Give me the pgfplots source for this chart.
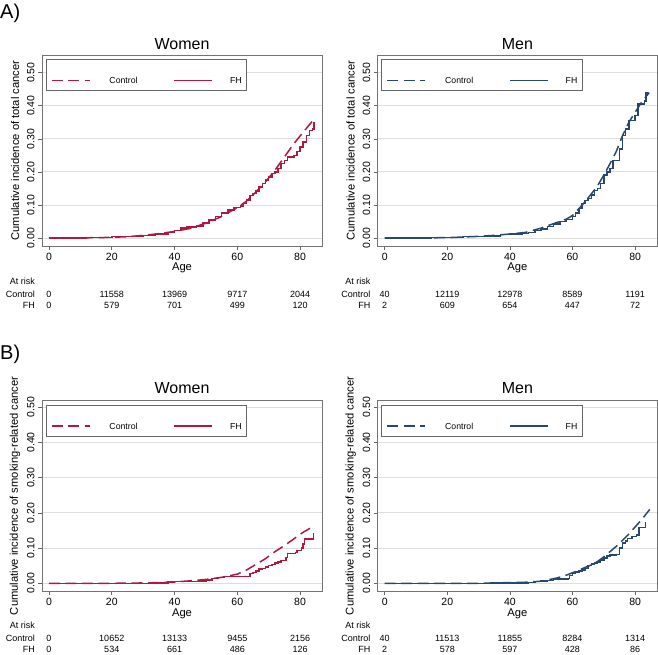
\documentclass[border=0pt]{standalone}
\usepackage{pgfplots}
\pgfplotsset{compat=1.18}
\usepackage{fontspec}
\setmainfont{Liberation Sans}
\definecolor{wcol}{RGB}{178,24,62}
\definecolor{mcol}{RGB}{38,72,110}
\newcommand{\riskfont}{\fontsize{9}{10}\selectfont}
\newcommand{\riskrow}[7]{%
 \node[anchor=east,inner sep=0pt,font=\riskfont,xshift=-14pt,yshift=#1] at ({axis cs:0,0}|-{rel axis cs:0,0}) {#2};
 \node[inner sep=0pt,font=\riskfont,yshift=#1] at ({axis cs:0,0}|-{rel axis cs:0,0}) {#3};
 \node[inner sep=0pt,font=\riskfont,yshift=#1] at ({axis cs:20,0}|-{rel axis cs:0,0}) {#4};
 \node[inner sep=0pt,font=\riskfont,yshift=#1] at ({axis cs:40,0}|-{rel axis cs:0,0}) {#5};
 \node[inner sep=0pt,font=\riskfont,yshift=#1] at ({axis cs:60,0}|-{rel axis cs:0,0}) {#6};
 \node[inner sep=0pt,font=\riskfont,yshift=#1] at ({axis cs:80,0}|-{rel axis cs:0,0}) {#7};
}
\newcommand{\atrisk}[1]{\node[anchor=east,inner sep=0pt,font=\riskfont,xshift=-14pt,yshift=#1] at ({axis cs:0,0}|-{rel axis cs:0,0}) {At risk};}
\pgfplotsset{
 every axis title/.style={at={(0.5,1)},anchor=center,yshift=11pt,font=\fontsize{16}{18}\selectfont},
 every axis x label/.style={at={(0.5,0)},anchor=center,yshift=-22.3pt,font=\fontsize{11.2}{13}\selectfont},
 every axis y label/.style={at={(0,0.5)},xshift=-27pt,rotate=90,anchor=center,font=\fontsize{11.2}{13}\selectfont},
 km/.style={
  scale only axis, width=280pt, height=191pt,
  xmin=-2.23, xmax=87,
  xtick={0,20,40,60,80},
  ytick={0,0.1,0.2,0.3,0.4,0.5},
  tick align=outside, xtick pos=left, ytick pos=left,
  major tick length=4pt,
  ymajorgrids, major grid style={black!13, line width=0.9pt},
  axis line style={black!55, line width=0.7pt},
  every tick/.style={black!60, line width=0.6pt},
  ticklabel style={font=\fontsize{10.5}{12}\selectfont},
  xticklabel style={yshift=0.5pt},
  yticklabel style={rotate=90, anchor=south},
  yticklabel={\pgfmathprintnumber[fixed,fixed zerofill,precision=2,assume math mode=true]{\tick}},
  xticklabel={\pgfmathprintnumber[assume math mode=true]{\tick}},
  clip=false,
  legend columns=2,
  legend cell align=left,
  legend image code/.code={\draw[##1] (0pt,3.1pt) -- (38pt,3.1pt);},
  legend style={at={(0.0132,0.9775)}, anchor=north west, draw=black!60, line width=0.6pt, fill=white, inner xsep=5pt, inner ysep=1.5pt, font=\fontsize{8.7}{10}\selectfont, cells={anchor=base west}, nodes={inner sep=0pt, text height=22.3pt, text depth=5.4pt}, /tikz/every even column/.append style={column sep=36pt}},
  xlabel={Age},
 },
 ctl/.style={line width=1.5pt, dash pattern=on 11pt off 5.5pt},
 fh/.style={line width=1.5pt, const plot},
}
\newcommand{\lc}{\addlegendentry{\hspace{19pt}Control}}
\newcommand{\lf}{\addlegendentry{\hspace{17pt}FH}}
\begin{document}
\begin{tikzpicture}
\useasboundingbox (0,0) rectangle (658pt,-654pt);
\node[anchor=base west,inner sep=0pt,font=\fontsize{20}{22}\selectfont] at (0pt,-18pt) {A)};
\node[anchor=base west,inner sep=0pt,font=\fontsize{20}{22}\selectfont] at (0pt,-359pt) {B)};

% A Women
\begin{axis}[km, at={(42pt,-246pt)}, anchor=south west, ymin=-0.0242, ymax=0.5536,
  title={Women}, ylabel={Cumulative incidence of total cancer}]
\addplot[wcol, ctl] coordinates {(0,0) (10,0.0005) (15,0.001) (20,0.002) (25,0.004) (30,0.008) (35,0.013) (40,0.02) (45,0.029) (50,0.045) (55,0.065) (60,0.092) (63,0.112) (66,0.14) (69,0.17) (72,0.205) (75,0.245) (78,0.285) (81,0.32) (84.5,0.36)};
\lc
\addplot[wcol, fh] coordinates {(0,0) (12,0.001) (18,0.002) (20,0.004) (25,0.005) (30,0.008) (34,0.012) (38,0.017) (40,0.022) (42,0.03) (44,0.034) (47,0.037) (49,0.045) (51,0.055) (53,0.065) (55,0.075) (57,0.085) (59,0.092) (61,0.097) (62,0.105) (63,0.115) (64,0.128) (65,0.135) (66,0.142) (67,0.155) (68,0.165) (69,0.175) (70,0.185) (71,0.195) (72,0.2) (73,0.21) (74,0.225) (75,0.235) (76,0.245) (78,0.25) (79,0.262) (80,0.275) (81,0.29) (82,0.31) (83,0.325) (84,0.33) (84.5,0.35)};
\lf
\atrisk{-35.5pt}
\riskrow{-48pt}{Control}{0}{11558}{13969}{9717}{2044}
\riskrow{-59.5pt}{FH}{0}{579}{701}{499}{120}
\end{axis}

% A Men
\begin{axis}[km, at={(377.7pt,-246pt)}, anchor=south west, width=279.3pt, ymin=-0.0242, ymax=0.5536,
  title={Men}, ylabel={Cumulative incidence of total cancer}]
\addplot[mcol, ctl] coordinates {(0,0) (10,0.0003) (20,0.001) (25,0.003) (30,0.005) (35,0.008) (40,0.012) (45,0.017) (50,0.03) (55,0.047) (58,0.057) (60,0.068) (62,0.088) (64,0.11) (66,0.133) (68,0.158) (70,0.19) (72,0.225) (74,0.262) (76,0.31) (78,0.35) (80,0.38) (82,0.41) (84.5,0.44)};
\lc
\addplot[mcol, fh] coordinates {(0,0) (15,0.001) (22,0.002) (25,0.004) (30,0.005) (34,0.006) (37,0.01) (40,0.012) (44,0.014) (46,0.016) (48,0.023) (50,0.028) (52,0.035) (54,0.043) (56,0.05) (58,0.056) (60,0.065) (61,0.075) (62,0.09) (63,0.105) (64,0.113) (65,0.12) (66,0.13) (67,0.143) (68,0.15) (69,0.165) (70,0.19) (71,0.2) (72,0.21) (73,0.235) (74,0.235) (75,0.27) (76,0.31) (77,0.33) (78,0.355) (79,0.355) (80,0.37) (81,0.405) (82,0.405) (83,0.415) (83.5,0.44) (84,0.43)};
\lf
\atrisk{-35.5pt}
\riskrow{-48pt}{Control}{40}{12119}{12978}{8589}{1191}
\riskrow{-59.5pt}{FH}{2}{609}{654}{447}{72}
\end{axis}

% B Women
\begin{axis}[km, at={(42pt,-591pt)}, anchor=south west, height=190.3pt, ymin=-0.0219, ymax=0.5188,
  title={Women}, title style={yshift=1.7pt}, xlabel style={yshift=-0.7pt}, ylabel={Cumulative incidence of smoking-related cancer}]
\addplot[wcol, ctl] coordinates {(0,0) (20,0) (30,0.001) (35,0.002) (40,0.004) (45,0.007) (50,0.011) (55,0.017) (60,0.026) (63,0.038) (66,0.054) (69,0.07) (72,0.09) (75,0.107) (78,0.126) (81,0.145) (84.5,0.163)};
\lc
\addplot[wcol, fh] coordinates {(0,0) (34,0.001) (38,0.003) (40,0.005) (45,0.005) (48,0.007) (50,0.009) (52,0.013) (54,0.017) (56,0.019) (63.5,0.019) (64,0.028) (65,0.031) (66,0.035) (67,0.04) (68,0.042) (69,0.046) (70,0.05) (71,0.053) (72,0.057) (73,0.06) (74,0.065) (75.5,0.074) (76,0.084) (78.5,0.087) (79,0.093) (80.5,0.1) (81,0.112) (81.5,0.126) (84,0.126) (84.3,0.142)};
\lf
\atrisk{-34.5pt}
\riskrow{-47.5pt}{Control}{0}{10652}{13133}{9455}{2156}
\riskrow{-58.5pt}{FH}{0}{534}{661}{486}{126}
\end{axis}

% B Men
\begin{axis}[km, at={(377.7pt,-591pt)}, anchor=south west, width=279.3pt, height=190.3pt, ymin=-0.0219, ymax=0.5188,
  title={Men}, title style={yshift=1.7pt}, xlabel style={yshift=-0.7pt}, ylabel={Cumulative incidence of smoking-related cancer}]
\addplot[mcol, ctl] coordinates {(0,0) (30,0) (35,0.001) (40,0.002) (45,0.003) (50,0.006) (55,0.015) (58,0.023) (60,0.03) (62,0.037) (64,0.045) (66,0.052) (68,0.062) (70,0.075) (72,0.09) (74,0.105) (76,0.122) (78,0.14) (80,0.16) (82,0.18) (84.7,0.21)};
\lc
\addplot[mcol, fh] coordinates {(0,0) (34,0.001) (46,0.002) (48,0.005) (50,0.007) (52,0.008) (54,0.012) (58.5,0.014) (59,0.022) (60,0.028) (61,0.032) (62,0.035) (63,0.038) (64,0.042) (65,0.05) (66,0.055) (67,0.058) (68,0.06) (69,0.066) (70,0.072) (71,0.078) (72,0.08) (74,0.082) (75,0.1) (76,0.114) (77,0.12) (77.5,0.128) (79,0.133) (80.5,0.137) (81.3,0.158) (83,0.158) (83.3,0.175)};
\lf
\atrisk{-34.5pt}
\riskrow{-47.5pt}{Control}{40}{11513}{11855}{8284}{1314}
\riskrow{-58.5pt}{FH}{2}{578}{597}{428}{86}
\end{axis}
\end{tikzpicture}
\end{document}
